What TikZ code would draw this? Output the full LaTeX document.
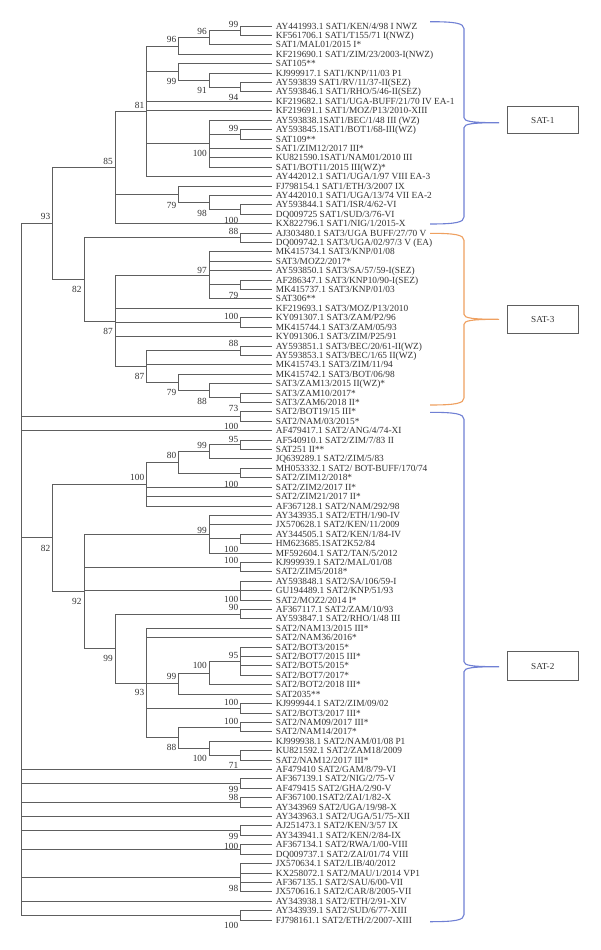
\documentclass[tikz,border=0pt]{standalone}
\usepackage{fontspec}
\setmainfont{Liberation Serif}
\definecolor{treegray}{HTML}{5E5E5E}
\definecolor{txtgray}{HTML}{333333}
\definecolor{braceblue}{HTML}{7080D4}
\definecolor{braceorange}{HTML}{EFA060}
\newcommand\kids[2]{\foreach \c in {#2}{\draw[br] (#1) |- (\c);}}
\newcommand\cbrace[4]{\draw[brace,#4] (430,#1) .. controls (455,#1) and (464,{#1+1.5}) .. (464,{#1+7}) -- (464,{#2-5}) .. controls (464,{#2-1.2}) and (472,#2) .. (499,#2) .. controls (472,#2) and (464,{#2+1.2}) .. (464,{#2+5}) -- (464,{#3-7}) .. controls (464,{#3-1.5}) and (455,#3) .. (430,#3);}
\begin{document}
\begin{tikzpicture}[x=1pt,y=-1pt,
  br/.style={draw=treegray,line width=0.8pt},
  leaf/.style={anchor=west,inner xsep=3.6pt,inner ysep=0pt,text height=6.2pt,text depth=0pt,font=\fontsize{9.35}{11}\selectfont,text=txtgray},
  bs/.style={anchor=east,inner sep=0pt,text height=6.2pt,text depth=0pt,font=\fontsize{9.35}{11}\selectfont,text=txtgray},
  clade/.style={draw=treegray,line width=0.8pt,minimum width=71pt,font=\fontsize{9.2}{11}\selectfont,text=txtgray,inner sep=0pt},
  brace/.style={line width=1.1pt}
]
\useasboundingbox[fill=white] (0,0) rectangle (600,950);

% ---------- leaves ----------
\node[leaf] (L1) at (272,26.00) {AY441993.1 SAT1/KEN/4/98 I NWZ};
\node[leaf] (L2) at (272,35.41) {KF561706.1 SAT1/T155/71 I(NWZ)};
\node[leaf] (L3) at (272,44.82) {SAT1/MAL01/2015 I*};
\node[leaf] (L4) at (272,54.23) {KF219690.1 SAT1/ZIM/23/2003-I(NWZ)};
\node[leaf] (L5) at (272,63.64) {SAT105**};
\node[leaf] (L6) at (272,73.05) {KJ999917.1 SAT1/KNP/11/03 P1};
\node[leaf] (L7) at (272,82.46) {AY593839 SAT1/RV/11/37-II(SEZ)};
\node[leaf] (L8) at (272,91.87) {AY593846.1 SAT1/RHO/5/46-II(SEZ)};
\node[leaf] (L9) at (272,101.28) {KF219682.1 SAT1/UGA-BUFF/21/70 IV EA-1};
\node[leaf] (L10) at (272,110.69) {KF219691.1 SAT1/MOZ/P13/2010-XIII};
\node[leaf] (L11) at (272,120.10) {AY593838.1SAT1/BEC/1/48 III (WZ)};
\node[leaf] (L12) at (272,129.51) {AY593845.1SAT1/BOT1/68-III(WZ)};
\node[leaf] (L13) at (272,138.92) {SAT109**};
\node[leaf] (L14) at (272,148.33) {SAT1/ZIM12/2017 III*};
\node[leaf] (L15) at (272,157.74) {KU821590.1SAT1/NAM01/2010 III};
\node[leaf] (L16) at (272,167.15) {SAT1/BOT11/2015 III(WZ)*};
\node[leaf] (L17) at (272,176.56) {AY442012.1 SAT1/UGA/1/97 VIII EA-3};
\node[leaf] (L18) at (272,185.97) {FJ798154.1 SAT1/ETH/3/2007 IX};
\node[leaf] (L19) at (272,195.38) {AY442010.1 SAT1/UGA/13/74 VII EA-2};
\node[leaf] (L20) at (272,204.79) {AY593844.1 SAT1/ISR/4/62-VI};
\node[leaf] (L21) at (272,214.20) {DQ009725 SAT1/SUD/3/76-VI};
\node[leaf] (L22) at (272,223.61) {KX822796.1 SAT1/NIG/1/2015-X};
\node[leaf] (L23) at (272,233.02) {AJ303480.1 SAT3/UGA BUFF/27/70 V};
\node[leaf] (L24) at (272,242.43) {DQ009742.1 SAT3/UGA/02/97/3 V (EA)};
\node[leaf] (L25) at (272,251.84) {MK415734.1 SAT3/KNP/01/08};
\node[leaf] (L26) at (272,261.25) {SAT3/MOZ2/2017*};
\node[leaf] (L27) at (272,270.66) {AY593850.1 SAT3/SA/57/59-I(SEZ)};
\node[leaf] (L28) at (272,280.07) {AF286347.1 SAT3/KNP10/90-I(SEZ)};
\node[leaf] (L29) at (272,289.48) {MK415737.1 SAT3/KNP/01/03};
\node[leaf] (L30) at (272,298.89) {SAT306**};
\node[leaf] (L31) at (272,308.30) {KF219693.1 SAT3/MOZ/P13/2010};
\node[leaf] (L32) at (272,317.71) {KY091307.1 SAT3/ZAM/P2/96};
\node[leaf] (L33) at (272,327.12) {MK415744.1 SAT3/ZAM/05/93};
\node[leaf] (L34) at (272,336.53) {KY091306.1 SAT3/ZIM/P25/91};
\node[leaf] (L35) at (272,345.94) {AY593851.1 SAT3/BEC/20/61-II(WZ)};
\node[leaf] (L36) at (272,355.35) {AY593853.1 SAT3/BEC/1/65 II(WZ)};
\node[leaf] (L37) at (272,364.76) {MK415743.1 SAT3/ZIM/11/94};
\node[leaf] (L38) at (272,374.17) {MK415742.1 SAT3/BOT/06/98};
\node[leaf] (L39) at (272,383.58) {SAT3/ZAM13/2015 II(WZ)*};
\node[leaf] (L40) at (272,392.99) {SAT3/ZAM10/2017*};
\node[leaf] (L41) at (272,402.40) {SAT3/ZAM6/2018 II*};
\node[leaf] (L42) at (272,411.81) {SAT2/BOT19/15 III*};
\node[leaf] (L43) at (272,421.22) {SAT2/NAM/03/2015*};
\node[leaf] (L44) at (272,430.63) {AF479417.1 SAT2/ANG/4/74-XI};
\node[leaf] (L45) at (272,440.04) {AF540910.1 SAT2/ZIM/7/83 II};
\node[leaf] (L46) at (272,449.45) {SAT251 II**};
\node[leaf] (L47) at (272,458.86) {JQ639289.1 SAT2/ZIM/5/83};
\node[leaf] (L48) at (272,468.27) {MH053332.1 SAT2/ BOT-BUFF/170/74};
\node[leaf] (L49) at (272,477.68) {SAT2/ZIM12/2018*};
\node[leaf] (L50) at (272,487.09) {SAT2/ZIM2/2017 II*};
\node[leaf] (L51) at (272,496.50) {SAT2/ZIM21/2017 II*};
\node[leaf] (L52) at (272,505.91) {AF367128.1 SAT2/NAM/292/98};
\node[leaf] (L53) at (272,515.32) {AY343935.1 SAT2/ETH/1/90-IV};
\node[leaf] (L54) at (272,524.73) {JX570628.1 SAT2/KEN/11/2009};
\node[leaf] (L55) at (272,534.14) {AY344505.1 SAT2/KEN/1/84-IV};
\node[leaf] (L56) at (272,543.55) {HM623685.1SAT2K52/84};
\node[leaf] (L57) at (272,552.96) {MF592604.1 SAT2/TAN/5/2012};
\node[leaf] (L58) at (272,562.37) {KJ999939.1 SAT2/MAL/01/08};
\node[leaf] (L59) at (272,571.78) {SAT2/ZIM5/2018*};
\node[leaf] (L60) at (272,581.19) {AY593848.1 SAT2/SA/106/59-I};
\node[leaf] (L61) at (272,590.60) {GU194489.1 SAT2/KNP/51/93};
\node[leaf] (L62) at (272,600.01) {SAT2/MOZ2/2014 I*};
\node[leaf] (L63) at (272,609.42) {AF367117.1 SAT2/ZAM/10/93};
\node[leaf] (L64) at (272,618.83) {AY593847.1 SAT2/RHO/1/48 III};
\node[leaf] (L65) at (272,628.24) {SAT2/NAM13/2015 III*};
\node[leaf] (L66) at (272,637.65) {SAT2/NAM36/2016*};
\node[leaf] (L67) at (272,647.06) {SAT2/BOT3/2015*};
\node[leaf] (L68) at (272,656.47) {SAT2/BOT7/2015 III*};
\node[leaf] (L69) at (272,665.88) {SAT2/BOT5/2015*};
\node[leaf] (L70) at (272,675.29) {SAT2/BOT7/2017*};
\node[leaf] (L71) at (272,684.70) {SAT2/BOT2/2018 III*};
\node[leaf] (L72) at (272,694.11) {SAT2035**};
\node[leaf] (L73) at (272,703.52) {KJ999944.1 SAT2/ZIM/09/02};
\node[leaf] (L74) at (272,712.93) {SAT2/BOT3/2017 III*};
\node[leaf] (L75) at (272,722.34) {SAT2/NAM09/2017 III*};
\node[leaf] (L76) at (272,731.75) {SAT2/NAM14/2017*};
\node[leaf] (L77) at (272,741.16) {KJ999938.1 SAT2/NAM/01/08 P1};
\node[leaf] (L78) at (272,750.57) {KU821592.1 SAT2/ZAM18/2009};
\node[leaf] (L79) at (272,759.98) {SAT2/NAM12/2017 III*};
\node[leaf] (L80) at (272,769.39) {AF479410 SAT2/GAM/8/79-VI};
\node[leaf] (L81) at (272,778.80) {AF367139.1 SAT2/NIG/2/75-V};
\node[leaf] (L82) at (272,788.21) {AF479415 SAT2/GHA/2/90-V};
\node[leaf] (L83) at (272,797.62) {AF367100.1SAT2/ZAI/1/82-X};
\node[leaf] (L84) at (272,807.03) {AY343969 SAT2/UGA/19/98-X};
\node[leaf] (L85) at (272,816.44) {AY343963.1 SAT2/UGA/51/75-XII};
\node[leaf] (L86) at (272,825.85) {AJ251473.1 SAT2/KEN/3/57 IX};
\node[leaf] (L87) at (272,835.26) {AY343941.1 SAT2/KEN/2/84-IX};
\node[leaf] (L88) at (272,844.67) {AF367134.1 SAT2/RWA/1/00-VIII};
\node[leaf] (L89) at (272,854.08) {DQ009737.1 SAT2/ZAI/01/74 VIII};
\node[leaf] (L90) at (272,863.49) {JX570634.1 SAT2/LIB/40/2012};
\node[leaf] (L91) at (272,872.90) {KX258072.1 SAT2/MAU/1/2014 VP1};
\node[leaf] (L92) at (272,882.31) {AF367135.1 SAT2/SAU/6/00-VII};
\node[leaf] (L93) at (272,891.72) {JX570616.1 SAT2/CAR/8/2005-VII};
\node[leaf] (L94) at (272,901.13) {AY343938.1 SAT2/ETH/2/91-XIV};
\node[leaf] (L95) at (272,910.54) {AY343939.1 SAT2/SUD/6/77-XIII};
\node[leaf] (L96) at (272,919.95) {FJ798161.1 SAT2/ETH/2/2007-XIII};

% ---------- internal nodes ----------
\coordinate (n99a) at (240.7,30.71);
\coordinate (n96b) at (209.3,37.76);
\coordinate (n96a) at (178.7,46.00);
\coordinate (n94) at (240.7,87.17);
\coordinate (n91) at (209.3,80.11);
\coordinate (n99b) at (178.7,71.87);
\coordinate (n99c) at (240.7,134.22);
\coordinate (n100a) at (209.3,143.62);
\coordinate (n81) at (146.7,111.28);
\coordinate (n100b) at (240.7,209.50);
\coordinate (n98) at (209.3,202.44);
\coordinate (n79a) at (178.7,194.20);
\coordinate (n85) at (115.3,167.45);
\coordinate (n88a) at (240.7,237.72);
\coordinate (n79b) at (240.7,284.78);
\coordinate (n97) at (209.3,275.37);
\coordinate (n100c) at (240.7,322.42);
\coordinate (n88b) at (240.7,350.65);
\coordinate (n73a) at (240.7,397.70);
\coordinate (n88c) at (209.3,390.64);
\coordinate (n79c) at (178.7,382.41);
\coordinate (n87b) at (146.7,366.53);
\coordinate (n87a) at (115.3,320.95);
\coordinate (n82a) at (84.0,279.34);
\coordinate (n93a) at (52.7,223.40);
\coordinate (n4243) at (240.7,416.52);
\coordinate (n99d) at (240.7,444.75);
\coordinate (n99e) at (209.3,451.80);
\coordinate (n4849) at (240.7,472.98);
\coordinate (n80) at (178.7,462.39);
\coordinate (n100d) at (146.7,484.15);
\coordinate (n5556) at (240.7,538.85);
\coordinate (n99g) at (209.3,534.14);
\coordinate (n5859) at (240.7,567.08);
\coordinate (n6062) at (240.7,590.60);
\coordinate (n6364) at (240.7,614.13);
\coordinate (n95) at (240.7,661.18);
\coordinate (n100g) at (209.3,672.94);
\coordinate (n99h) at (178.7,683.53);
\coordinate (n7374) at (240.7,708.23);
\coordinate (n7576) at (240.7,727.05);
\coordinate (n7879) at (240.7,755.28);
\coordinate (n100h) at (209.3,748.22);
\coordinate (n88d) at (178.7,737.64);
\coordinate (n93b) at (146.7,682.94);
\coordinate (n99f) at (115.3,648.54);
\coordinate (n92) at (84.0,591.34);
\coordinate (n82b) at (52.7,537.75);
\coordinate (n8182) at (240.7,783.51);
\coordinate (n8384) at (240.7,802.33);
\coordinate (n8687) at (240.7,830.56);
\coordinate (n8889) at (240.7,849.38);
\coordinate (n9093) at (240.7,877.61);
\coordinate (n9596) at (240.7,915.25);
\coordinate (root) at (21.3,569.30);

% ---------- branches ----------
\kids{n99a}{L1.west,L2.west}
\kids{n96b}{n99a,L3.west}
\kids{n96a}{n96b,L4.west}
\kids{n94}{L7.west,L8.west}
\kids{n91}{L6.west,n94}
\kids{n99b}{L5.west,n91}
\kids{n99c}{L12.west,L13.west}
\kids{n100a}{L11.west,n99c,L14.west,L15.west,L16.west}
\kids{n81}{n96a,n99b,L9.west,L10.west,n100a,L17.west}
\kids{n100b}{L20.west,L21.west}
\kids{n98}{L19.west,n100b}
\kids{n79a}{L18.west,n98}
\kids{n85}{n81,n79a,L22.west}
\kids{n88a}{L23.west,L24.west}
\kids{n79b}{L28.west,L29.west}
\kids{n97}{L25.west,L26.west,L27.west,n79b,L30.west}
\kids{n100c}{L32.west,L33.west}
\kids{n88b}{L35.west,L36.west}
\kids{n73a}{L40.west,L41.west}
\kids{n88c}{L39.west,n73a}
\kids{n79c}{L38.west,n88c}
\kids{n87b}{n88b,L37.west,n79c}
\kids{n87a}{n97,L31.west,n100c,L34.west,n87b}
\kids{n82a}{n88a,n87a}
\kids{n93a}{n85,n82a}
\kids{n4243}{L42.west,L43.west}
\kids{n99d}{L45.west,L46.west}
\kids{n99e}{n99d,L47.west}
\kids{n4849}{L48.west,L49.west}
\kids{n80}{n99e,n4849}
\kids{n100d}{n80,L50.west,L51.west,L52.west}
\kids{n5556}{L55.west,L56.west}
\kids{n99g}{L53.west,L54.west,n5556,L57.west}
\kids{n5859}{L58.west,L59.west}
\kids{n6062}{L60.west,L61.west,L62.west}
\kids{n6364}{L63.west,L64.west}
\kids{n95}{L67.west,L68.west,L69.west,L70.west}
\kids{n100g}{n95,L71.west}
\kids{n99h}{n100g,L72.west}
\kids{n7374}{L73.west,L74.west}
\kids{n7576}{L75.west,L76.west}
\kids{n7879}{L78.west,L79.west}
\kids{n100h}{L77.west,n7879}
\kids{n88d}{n7576,n100h}
\kids{n93b}{L65.west,L66.west,n99h,n7374,n88d}
\kids{n99f}{n6364,n93b}
\kids{n92}{n99g,n5859,n6062,n99f}
\kids{n82b}{n100d,n92}
\kids{n8182}{L81.west,L82.west}
\kids{n8384}{L83.west,L84.west}
\kids{n8687}{L86.west,L87.west}
\kids{n8889}{L88.west,L89.west}
\kids{n9093}{L90.west,L91.west,L92.west,L93.west}
\kids{n9596}{L95.west,L96.west}
\kids{root}{n93a,n4243,L44.west,n82b,L80.west,n8182,n8384,L85.west,n8687,n8889,n9093,L94.west,n9596}

% ---------- bootstrap values ----------
\node[bs] (b1) at (238.4,24.0) {99};
\node[bs] (b2) at (207.0,31.7) {96};
\node[bs] (b3) at (176.4,39.3) {96};
\node[bs] (b4) at (176.4,81.7) {99};
\node[bs] (b5) at (207.0,90.7) {91};
\node[bs] (b6) at (238.4,97.3) {94};
\node[bs] (b7) at (144.4,105.0) {81};
\node[bs] (b8) at (238.4,128.3) {99};
\node[bs] (b9) at (207.0,153.3) {100};
\node[bs] (b10) at (113.0,161.7) {85};
\node[bs] (b11) at (176.4,205.0) {79};
\node[bs] (b12) at (207.0,213.3) {98};
\node[bs] (b13) at (238.4,220.0) {100};
\node[bs] (b14) at (50.4,216.7) {93};
\node[bs] (b15) at (238.4,231.7) {88};
\node[bs] (b16) at (207.0,270.0) {97};
\node[bs] (b17) at (238.4,295.0) {79};
\node[bs] (b18) at (238.4,316.0) {100};
\node[bs] (b19) at (238.4,343.3) {88};
\node[bs] (b20) at (81.7,289.3) {82};
\node[bs] (b21) at (113.0,331.7) {87};
\node[bs] (b22) at (144.4,376.7) {87};
\node[bs] (b23) at (176.4,392.0) {79};
\node[bs] (b24) at (207.0,401.0) {88};
\node[bs] (b25) at (238.4,408.3) {73};
\node[bs] (b26) at (238.4,426.0) {100};
\node[bs] (b27) at (238.4,439.0) {95};
\node[bs] (b28) at (207.0,445.0) {99};
\node[bs] (b29) at (176.4,455.5) {80};
\node[bs] (b30) at (144.4,477.0) {100};
\node[bs] (b31) at (238.4,484.0) {100};
\node[bs] (b32) at (207.0,530.7) {99};
\node[bs] (b33) at (238.4,549.3) {100};
\node[bs] (b34) at (238.4,560.0) {100};
\node[bs] (b35) at (50.4,548.3) {82};
\node[bs] (b36) at (81.7,601.0) {92};
\node[bs] (b37) at (238.4,599.0) {100};
\node[bs] (b38) at (238.4,607.8) {90};
\node[bs] (b39) at (238.4,655.0) {95};
\node[bs] (b40) at (207.0,665.7) {100};
\node[bs] (b41) at (176.4,676.7) {99};
\node[bs] (b42) at (113.0,658.3) {99};
\node[bs] (b43) at (144.4,692.7) {93};
\node[bs] (b44) at (238.4,702.7) {100};
\node[bs] (b45) at (238.4,721.0) {100};
\node[bs] (b46) at (176.4,747.3) {88};
\node[bs] (b47) at (207.0,758.3) {100};
\node[bs] (b48) at (238.4,765.0) {71};
\node[bs] (b49) at (238.4,789.3) {99};
\node[bs] (b50) at (238.4,797.3) {98};
\node[bs] (b51) at (238.4,836.8) {99};
\node[bs] (b52) at (238.4,846.0) {100};
\node[bs] (b53) at (238.4,888.3) {98};
\node[bs] (b54) at (238.4,925.0) {100};

% ---------- braces and clade boxes ----------
\cbrace{21.7}{122.7}{224.0}{braceblue}
\cbrace{233.3}{319.3}{405.0}{braceorange}
\cbrace{412.3}{666.7}{921.7}{braceblue}
\node[clade,minimum height=26.6pt] (s1) at (542.8,120.0) {SAT-1};
\node[clade,minimum height=28.3pt] (s3) at (542.8,319.2) {SAT-3};
\node[clade,minimum height=29pt] (s2) at (542.8,666.2) {SAT-2};
\end{tikzpicture}
\end{document}
